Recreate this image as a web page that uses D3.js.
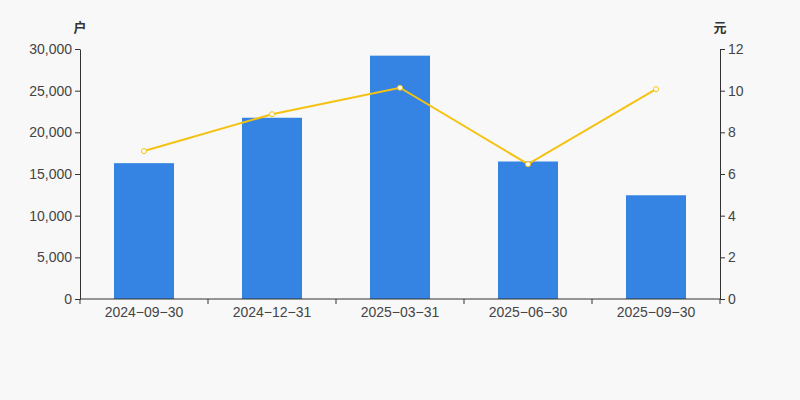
<!DOCTYPE html>
<html>
<head>
<meta charset="utf-8">
<script src="https://cdn.jsdelivr.net/npm/d3@7"></script>
<style>
  body { margin: 0; background: #f8f8f8; }
  svg { display: block; font-family: "Liberation Sans", Arial, "Noto Sans CJK SC", sans-serif; }
  .axis text { fill: #444; font-size: 14px; }
  .axis path, .axis line { stroke: #333; }
</style>
</head>
<body>
<svg id="chart"></svg>
<script>
// data
const dates = ['2024-09-30', '2024-12-31', '2025-03-31', '2025-06-30', '2025-09-30'];
const holders = [16300, 21750, 29200, 16500, 12450];   // 户 (bars)
const avgValue = [7.1, 8.87, 10.14, 6.47, 10.07];     // 元 (line)
const leftTicks = [0, 5000, 10000, 15000, 20000, 25000, 30000];
const rightTicks = [0, 2, 4, 6, 8, 10, 12];

const width = 800, height = 400;
const margin = { top: 49, right: 80, bottom: 101, left: 80 };
const innerW = width - margin.left - margin.right;
const innerH = height - margin.top - margin.bottom;

const svg = d3.select('#chart').attr('width', width).attr('height', height);
svg.append('rect').attr('width', width).attr('height', height).attr('fill', '#f8f8f8');

const g = svg.append('g').attr('transform', `translate(${margin.left},${margin.top})`);

const x = d3.scaleBand().domain(dates).range([0, innerW]).paddingInner(0).paddingOuter(0);
const yL = d3.scaleLinear().domain([0, 30000]).range([innerH, 0]);
const yR = d3.scaleLinear().domain([0, 12]).range([innerH, 0]);

// bars
const barW = 60;
g.selectAll('.bar')
  .data(dates)
  .join('rect')
    .attr('class', 'bar')
    .attr('x', (d, i) => x(d) + (x.bandwidth() - barW) / 2)
    .attr('y', (d, i) => yL(holders[i]))
    .attr('width', barW)
    .attr('height', (d, i) => innerH - yL(holders[i]))
    .attr('fill', '#3583e2');

// x axis with ticks on band boundaries
const xAxisG = g.append('g').attr('class', 'axis').attr('transform', `translate(0,${innerH})`);
xAxisG.append('line').attr('x1', 0).attr('x2', innerW).attr('stroke', '#333');
const bounds = dates.map(d => x(d)).concat([innerW]);
xAxisG.selectAll('.tk').data(bounds).join('line')
  .attr('class', 'tk')
  .attr('x1', d => d).attr('x2', d => d)
  .attr('y1', 0).attr('y2', 5)
  .attr('stroke', '#333');
xAxisG.selectAll('.lbl').data(dates).join('text')
  .attr('class', 'lbl')
  .attr('x', d => x(d) + x.bandwidth() / 2)
  .attr('y', 18)
  .attr('text-anchor', 'middle')
  .text(d => d.replace(/-/g, '\u2212'));

// left axis
g.append('g').attr('class', 'axis')
  .call(d3.axisLeft(yL).tickValues(leftTicks).tickSize(5).tickSizeOuter(0).tickFormat(d3.format(',')))
  .call(a => a.selectAll('text').attr('x', -8));

// right axis
g.append('g').attr('class', 'axis').attr('transform', `translate(${innerW},0)`)
  .call(d3.axisRight(yR).tickValues(rightTicks).tickSize(5).tickSizeOuter(0))
  .call(a => a.selectAll('text').attr('x', 8));

// unit labels
svg.append('text').attr('x', 80).attr('y', 32).attr('text-anchor', 'middle')
  .attr('font-size', 13).attr('font-weight', 'bold').attr('fill', '#333').text('户');
svg.append('text').attr('x', 720).attr('y', 32).attr('text-anchor', 'middle')
  .attr('font-size', 13).attr('font-weight', 'bold').attr('fill', '#333').text('元');

// line
const line = d3.line()
  .x((d, i) => x(dates[i]) + x.bandwidth() / 2)
  .y(d => yR(d));
g.append('path')
  .datum(avgValue)
  .attr('d', line)
  .attr('fill', 'none')
  .attr('stroke', '#f5c211')
  .attr('stroke-width', 2);
g.selectAll('.dot')
  .data(avgValue)
  .join('circle')
    .attr('class', 'dot')
    .attr('cx', (d, i) => x(dates[i]) + x.bandwidth() / 2)
    .attr('cy', d => yR(d))
    .attr('r', 2.5)
    .attr('fill', '#fff')
    .attr('stroke', '#f5c211')
    .attr('stroke-width', 1);
</script>
</body>
</html>
